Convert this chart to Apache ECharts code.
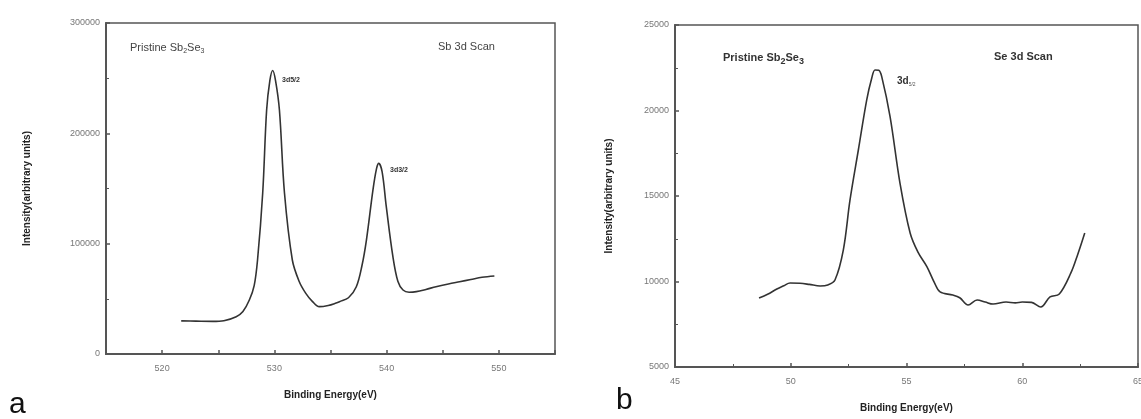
<!DOCTYPE html>
<html>
<head>
<meta charset="utf-8">
<script src="https://cdn.jsdelivr.net/npm/echarts@6/dist/echarts.min.js"></script>
<style>
  html, body { margin: 0; padding: 0; background: #fff; }
  #chart { width: 1141px; height: 419px; }
</style>
</head>
<body>
<div id="chart"></div>
<script>
// Sb 3d scan (panel a): [binding energy eV, intensity]
const sbEnergy = [521.7, 523, 524.5, 525.5, 526.6, 527.2, 527.77, 528.2, 528.5, 528.96, 529.31, 529.6, 529.85, 530.1, 530.45, 530.9, 531.6, 532.2, 532.8, 533.4, 534.0, 534.8, 535.5, 535.8, 536.6, 537.3, 537.8, 538.2, 538.78, 539.1, 539.3, 539.6, 539.97, 540.56, 541.0, 541.46, 542.0, 542.65, 543.5, 544.4, 545.5, 546.5, 547.5, 548.5, 549.6];
const sbIntensity = [30000, 29800, 29600, 30200, 33800, 38500, 48900, 62000, 85200, 145900, 221100, 248000, 257000, 248000, 221100, 145900, 85200, 66000, 55000, 47500, 42900, 44000, 46200, 47400, 51000, 61000, 80000, 103300, 148600, 168000, 172800, 165000, 133500, 88200, 66000, 58000, 56000, 56500, 58500, 61000, 63500, 65500, 67500, 69500, 70700];

// Se 3d scan (panel b)
const seEnergy = [48.63, 49.0, 49.4, 49.7, 49.97, 50.4, 50.8, 51.27, 51.6, 51.91, 52.27, 52.56, 52.92, 53.28, 53.5, 53.64, 53.8, 53.93, 54.29, 54.72, 55.16, 55.5, 55.88, 56.2, 56.45, 57.0, 57.3, 57.66, 58.05, 58.4, 58.74, 59.3, 59.7, 60.0, 60.4, 60.8, 61.2, 61.6, 62.1, 62.4, 62.7];
const seIntensity = [9035, 9250, 9560, 9750, 9910, 9895, 9830, 9740, 9800, 10090, 11840, 14770, 17690, 20610, 21900, 22370, 22350, 21980, 19640, 15740, 12820, 11700, 10870, 9950, 9390, 9210, 9050, 8630, 8920, 8800, 8680, 8800, 8750, 8800, 8780, 8510, 9100, 9270, 10500, 11600, 12840];

const toPairs = (xs, ys) => xs.map((x, i) => [x, ys[i]]);

const axisColor = '#555';
const labelStyle = { color: '#777', fontSize: 9, fontFamily: 'Liberation Sans' };
const nameStyle = { color: '#222', fontSize: 10, fontWeight: 'bold', fontFamily: 'Liberation Sans' };

const makeX = (gridIndex, min, max, interval, formatter) => ({
  type: 'value', gridIndex, min, max, interval,
  name: 'Binding Energy(eV)', nameLocation: 'middle', nameGap: 36,
  nameTextStyle: nameStyle,
  axisLine: { lineStyle: { color: axisColor, width: 2 } },
  axisTick: { inside: true, length: 4, lineStyle: { color: axisColor, width: 1.5 } },
  minorTick: { show: gridIndex === 1, splitNumber: 2, length: 3, lineStyle: { color: axisColor } },
  axisLabel: Object.assign({ margin: 10, formatter }, labelStyle),
  splitLine: { show: false }
});

const makeY = (gridIndex, min, max, interval, gap) => ({
  type: 'value', gridIndex, min, max, interval,
  name: 'Intensity(arbitrary units)', nameLocation: 'middle', nameGap: gap,
  nameTextStyle: nameStyle,
  axisLine: { show: true, lineStyle: { color: axisColor, width: 2 } },
  axisTick: { show: true, inside: true, length: 4, lineStyle: { color: axisColor, width: 1.5 } },
  minorTick: { show: true, splitNumber: 2, length: 3, lineStyle: { color: axisColor } },
  axisLabel: Object.assign({ margin: 6, formatter: v => String(v) }, labelStyle),
  splitLine: { show: false }
});

const chart = echarts.init(document.getElementById('chart'));

const txt = (x, y, text, font, extra) => ({
  type: 'text', left: x, top: y,
  style: Object.assign({ text, fill: '#333', font }, extra || {})
});

chart.setOption({
  backgroundColor: '#fff',
  animation: false,
  grid: [
    { left: 106, top: 23, width: 449, height: 331, show: true, borderColor: axisColor, borderWidth: 1.5, outerBoundsMode: 'none' },
    { left: 675, top: 25, width: 463, height: 342, show: true, borderColor: axisColor, borderWidth: 1.5, outerBoundsMode: 'none' }
  ],
  xAxis: [
    makeX(0, 515, 555, 5, v => (v % 10 === 0 ? String(v) : '')),
    makeX(1, 45, 65, 5, v => String(v))
  ],
  yAxis: [
    makeY(0, 0, 300000, 100000, 74),
    makeY(1, 5000, 25000, 5000, 61)
  ],
  series: [
    {
      type: 'line', xAxisIndex: 0, yAxisIndex: 0, data: toPairs(sbEnergy, sbIntensity),
      showSymbol: false, smooth: 0.35, lineStyle: { color: '#333', width: 1.6 }
    },
    {
      type: 'line', xAxisIndex: 1, yAxisIndex: 1, data: toPairs(seEnergy, seIntensity),
      showSymbol: false, smooth: 0.35, lineStyle: { color: '#333', width: 1.6 }
    }
  ],
  graphic: [
    // panel a annotations
    { type: 'text', left: 130, top: 42, style: {
      text: '{m|Pristine Sb}{s|2}{m|Se}{s|3}',
      rich: { m: { font: '11px Liberation Sans', fill: '#444' }, s: { font: '7px Liberation Sans', fill: '#444', padding: [8, 0, 0, 0] } }
    } },
    txt(438, 41, 'Sb 3d Scan', '11px Liberation Sans', { fill: '#444' }),
    txt(282, 77, '3d5/2', 'bold 7px Liberation Sans'),
    txt(390, 167, '3d3/2', 'bold 7px Liberation Sans'),
    // panel b annotations
    { type: 'text', left: 723, top: 52, style: {
      text: '{m|Pristine Sb}{s|2}{m|Se}{s|3}',
      rich: { m: { font: 'bold 11px Liberation Sans', fill: '#333' }, s: { font: 'bold 9px Liberation Sans', fill: '#333', padding: [8, 0, 0, 0] } }
    } },
    txt(994, 51, 'Se 3d Scan', 'bold 11px Liberation Sans'),
    { type: 'text', left: 897, top: 76, style: {
      text: '{m|3d}{s|5/2}',
      rich: { m: { font: 'bold 10px Liberation Sans', fill: '#333' }, s: { font: '5px Liberation Sans', fill: '#555', padding: [7, 0, 0, 0] } }
    } },
    // panel letters
    txt(9, 390, 'a', '30px Liberation Sans', { fill: '#111' }),
    txt(616, 386, 'b', '30px Liberation Sans', { fill: '#111' })
  ]
});
</script>
</body>
</html>
